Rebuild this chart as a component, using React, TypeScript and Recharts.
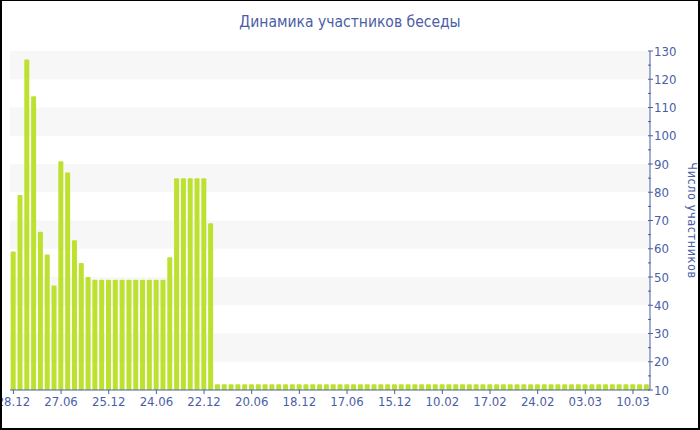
import React from 'react';
import { BarChart, Bar, XAxis, YAxis, ReferenceArea } from 'recharts';

// participants per period, left to right
const PARTICIPANTS = [
  59, 79, 127, 114, 66, 58, 47, 91, 87, 63, 55, 50,
  49, 49, 49, 49, 49, 49, 49, 49, 49, 49, 49,
  57, 85, 85, 85, 85, 85, 69,
  12, 12, 12, 12, 12, 12, 12, 12, 12, 12, 12, 12, 12, 12, 12, 12,
  12, 12, 12, 12, 12, 12, 12, 12, 12, 12, 12, 12, 12, 12, 12, 12,
  12, 12, 12, 12, 12, 12, 12, 12, 12, 12, 12, 12, 12, 12, 12, 12,
  12, 12, 12, 12, 12, 12, 12, 12, 12, 12, 12, 12, 12, 12, 12, 12,
];

// one label every 7 bars
const TICK_LABELS = [
  '28.12', '27.06', '25.12', '24.06', '22.12', '20.06', '18.12',
  '17.06', '15.12', '10.02', '17.02', '24.02', '03.03', '10.03',
];

const Y_TICKS = [10, 15, 20, 25, 30, 35, 40, 45, 50, 55, 60, 65, 70, 75, 80, 85, 90, 95, 100, 105, 110, 115, 120, 125, 130];
const GRAY_BANDS = [[20, 30], [40, 50], [60, 70], [80, 90], [100, 110], [120, 130]];

const TITLE = 'Динамика участников беседы';
const Y_LABEL = 'Число участников';

const BLUE = '#4a5ea6';
const FONT = '"DejaVu Sans Condensed", "DejaVu Sans", sans-serif';

const data = PARTICIPANTS.map((value, idx) => ({ idx, value }));

const YTick = (props: any) => {
  const { x, y, payload } = props;
  const major = payload.value % 10 === 0;
  return (
    <g>
      <line x1={x - 2} x2={x + (major ? 3 : 1)} y1={y} y2={y} stroke={BLUE} />
      {major && (
        <text x={x + 4} y={y} dy="0.35em" textAnchor="start" fill={BLUE} fontSize={13} fontFamily={FONT}>
          {payload.value}
        </text>
      )}
    </g>
  );
};

const YLabel = (props: any) => {
  const { x, y, height } = props.viewBox;
  const cx = x + 42;
  const cy = y + height / 2;
  return (
    <text x={cx} y={cy} transform={`rotate(90, ${cx}, ${cy})`} textAnchor="middle" dy="0.35em" fill={BLUE} fontSize={12.5} letterSpacing={0.6} fontFamily={FONT}>
      {Y_LABEL}
    </text>
  );
};

const App: React.FC = () => {
  return (
    <div style={{ position: 'fixed', left: 0, top: 0, width: 700, height: 430, background: '#fff' }}>
      <div
        style={{
          position: 'absolute', top: 12, left: 0, width: 700, textAlign: 'center',
          fontFamily: FONT, fontSize: 15.5, lineHeight: '20px', color: BLUE,
        }}
      >
        {TITLE}
      </div>
      <BarChart width={700} height={430} data={data} margin={{ top: 51, right: 2, bottom: 10, left: 10 }} barCategoryGap="10%">
        {GRAY_BANDS.map(([a, b]) => (
          <ReferenceArea key={a} y1={a} y2={b} fill="#f7f7f7" fillOpacity={1} stroke="none" />
        ))}
        <XAxis
          dataKey="idx"
          interval={6}
          tickFormatter={(v: number) => TICK_LABELS[v / 7] ?? ''}
          axisLine={{ stroke: BLUE }}
          tickLine={{ stroke: BLUE }}
          tickSize={4}
          tickMargin={3}
          height={30}
          tick={{ fill: BLUE, fontSize: 13, fontFamily: FONT }}
        />
        <YAxis
          orientation="right"
          width={48}
          domain={[10, 130]}
          ticks={Y_TICKS}
          interval={0}
          allowDataOverflow
          axisLine={{ stroke: BLUE }}
          tickLine={false}
          tickSize={0}
          tickMargin={0}
          tick={<YTick />}
          label={<YLabel />}
        />
        <Bar dataKey="value" fill="#bde12f" isAnimationActive={false} radius={[1, 1, 0, 0]} />
      </BarChart>
      <div
        style={{
          position: 'absolute', left: 0, top: 0, width: 700, height: 430, boxSizing: 'border-box',
          borderLeft: '2px solid #000', borderTop: '1px solid #000', borderRight: '2px solid #000',
          borderBottom: '2px solid #000', pointerEvents: 'none',
        }}
      />
    </div>
  );
};

export default App;
